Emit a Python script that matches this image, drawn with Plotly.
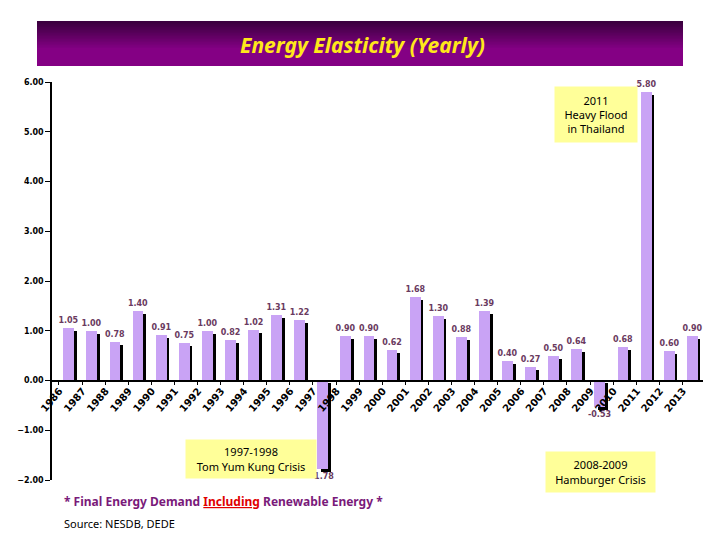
import plotly.graph_objects as go

years = [str(y) for y in range(1986, 2014)]
elasticity = [1.05, 1.00, 0.78, 1.40, 0.91, 0.75, 1.00, 0.82, 1.02, 1.31, 1.22, -1.78,
              0.90, 0.90, 0.62, 1.68, 1.30, 0.88, 1.39, 0.40, 0.27, 0.50, 0.64, -0.53,
              0.68, 5.80, 0.60, 0.90]
y_ticks = [-2, -1, 0, 1, 2, 3, 4, 5, 6]

title_text = "Energy Elasticity (Yearly)"
footnote = ("* Final Energy Demand <span style='color:#E00000'><u>Including</u></span>"
            " Renewable Energy *")
source_text = "Source: NESDB, DEDE"
notes = [
    ("2011<br>Heavy Flood<br>in Thailand", 596, 115, 82, 55),
    ("1997-1998<br>Tom Yum Kung Crisis", 251, 459, 130, 38),
    ("2008-2009<br>Hamburger Crisis", 600, 472, 109, 40),
]

# plot-area geometry (pixels)
L, R, T, B = 52, 703, 82, 480
PW, PH = R - L, B - T


def px_x(p):
    return (p - L) / PW


def px_y(p):
    return (B - p) / PH


shift = 0.06  # shadow drop (data units)
shadow_base = [0 if v > 0 else -shift for v in elasticity]
shadow_h = [v - shift if v > 0 else v for v in elasticity]

fig = go.Figure()
fig.add_trace(go.Bar(
    x=years, y=shadow_h, base=shadow_base, width=0.45, offset=-0.17,
    marker=dict(color="#000000", line_width=0), hoverinfo="skip", showlegend=False,
))
fig.add_trace(go.Bar(
    x=years, y=elasticity, width=0.47, offset=-0.31,
    marker=dict(color="#C9A3F5", line_width=0),
    texttemplate="%{y:.2f}", textposition="outside", constraintext="none",
    textfont=dict(family="DejaVu Sans", size=8, color="#6A3A60", weight="bold"),
    cliponaxis=False, showlegend=False,
))

fig.update_layout(
    width=720, height=540, autosize=False,
    margin=dict(l=L, r=720 - R, t=T, b=540 - B),
    paper_bgcolor="white", plot_bgcolor="white",
    barmode="overlay", bargap=0,
    font=dict(family="DejaVu Sans", color="black"),
    xaxis=dict(
        type="category", range=[-0.8, 27.39], anchor="free", position=0.25,
        showline=True, linecolor="black", linewidth=1.5,
        ticks="outside", ticklen=4, tickcolor="black", tickson="boundaries",
        tickangle=-50, ticklabelshift=-11,
        tickfont=dict(family="DejaVu Sans", size=10, color="black", weight="bold"),
        showgrid=False, zeroline=False,
    ),
    yaxis=dict(
        range=[-2, 6], tickvals=y_ticks, tickformat=".2f",
        showline=True, linecolor="black", linewidth=1.5,
        ticks="outside", ticklen=5, tickcolor="black",
        tickfont=dict(family="DejaVu Sans", size=8, color="black", weight="bold"),
        showgrid=False, zeroline=False,
    ),
)

# title banner with vertical gradient (each strip runs to the bottom: no seams)
top, bot = 21, 66
n = 30
c0, c1 = (0x3A, 0x00, 0x3E), (0x84, 0x00, 0x84)
for i in range(n):
    f = min(1.0, i / (n * 0.6))
    col = tuple(int(c0[k] + (c1[k] - c0[k]) * f) for k in range(3))
    y0p = top + (bot - top) * i / n
    fig.add_shape(type="rect", xref="paper", yref="paper",
                  x0=px_x(37), x1=px_x(683), y0=px_y(bot), y1=px_y(y0p),
                  fillcolor="rgb(%d,%d,%d)" % col, line_width=0, layer="below")

fig.add_annotation(text=title_text, xref="paper", yref="paper",
                   x=px_x(362), y=px_y(45), xanchor="center", yanchor="middle",
                   showarrow=False,
                   font=dict(family="Noto Sans", size=21, color="#FFE81A",
                             weight="bold", style="italic"))

for txt, cx, cy, w, h in notes:
    fig.add_annotation(text=txt, xref="paper", yref="paper",
                       x=px_x(cx), y=px_y(cy), xanchor="center", yanchor="middle",
                       showarrow=False,
                       width=w, height=h, borderpad=0, bgcolor="#FFFF99",
                       align="center", valign="middle",
                       font=dict(family="Noto Sans", size=11, color="black"))

fig.add_annotation(text=footnote, xref="paper", yref="paper",
                   x=px_x(62), y=px_y(502), xanchor="left", yanchor="middle",
                   showarrow=False,
                   font=dict(family="Noto Sans", size=12, color="#7A1A7A", weight="bold"))
fig.add_annotation(text=source_text, xref="paper", yref="paper",
                   x=px_x(62), y=px_y(523), xanchor="left", yanchor="middle",
                   showarrow=False,
                   font=dict(family="Noto Sans", size=11, color="black"))

fig.write_html("out.html", config={"displayModeBar": False},
               post_script="document.body.style.margin='0px';")
